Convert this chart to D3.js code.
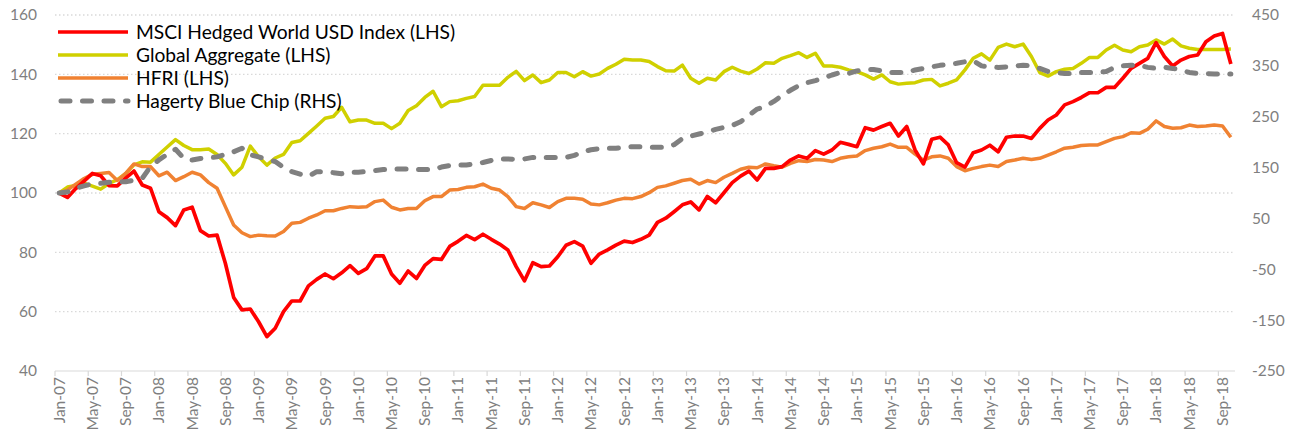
<!DOCTYPE html>
<html><head><meta charset="utf-8">
<script src="https://cdn.jsdelivr.net/npm/d3@7"></script>
<style>
html,body{margin:0;padding:0;background:#fff;}
svg{display:block;font-family:Lato, "Liberation Sans", sans-serif;}
</style></head>
<body><svg id="chart" width="1289" height="439"></svg>
<script>
// ---------- DATA ----------
const startMonth = "2007-01"; // first category Jan-07, monthly to Oct-18
const msci = [100,98.5,101.5,104,106.6,105.8,102.5,102.4,105,107.4,102.7,101.6,93.7,91.7,89.0,94.3,95.2,87.3,85.5,85.8,
76.3,64.8,60.6,60.9,56.6,51.6,54.4,60.0,63.6,63.6,68.7,70.9,72.7,71.1,73.1,75.5,72.9,74.5,78.8,78.8,
72.7,69.6,73.7,71.2,75.6,77.9,77.6,82.0,83.7,85.7,84.3,86.1,84.4,82.8,80.8,75.2,70.4,76.5,75.2,75.4,
78.5,82.4,83.6,82.1,76.3,79.4,80.8,82.4,83.8,83.3,84.4,85.8,90.1,91.5,93.7,96.0,97.0,94.3,98.8,96.7,
100.1,103.5,105.7,107.4,104.4,108.3,108.3,108.9,111.1,112.5,111.7,114.3,113.1,114.5,117.1,116.4,115.6,122.0,121.2,122.4,
123.5,119.2,122.4,114.5,109.8,118.1,118.8,116.2,110.2,108.7,113.6,114.5,116.1,113.9,118.8,119.2,119.2,118.4,121.8,124.6,
126.3,129.7,130.8,132.2,133.8,133.8,135.6,135.6,138.7,142.0,143.7,145.4,150.7,146.0,142.8,144.8,146.0,146.5,151.0,152.9,
153.8,143.5];
const globalAgg = [100,102,102.5,103.3,102.3,101.3,103.2,104.5,106.5,109.5,110.5,110.4,113,115.5,118,116,114.6,114.6,114.8,113,
110,106.1,108.7,115.8,112.2,109.4,111.8,113,117.0,117.6,120.1,122.6,125.2,125.8,128.9,124.0,124.6,124.6,123.5,123.5,
121.7,123.5,127.8,129.4,132.2,134.3,129.1,130.8,131.1,131.9,132.5,136.3,136.3,136.3,139.0,141.0,137.9,139.8,137.2,138.1,
140.6,140.6,139.2,140.9,139.4,140.1,142.0,143.4,145.1,144.8,144.8,144.3,142.6,141.2,141.1,143.1,138.7,137.0,138.7,138.1,
140.9,142.4,141.1,140.3,141.8,143.9,143.7,145.4,146.3,147.3,145.7,147.1,142.8,142.8,142.4,141.5,140.9,139.8,138.4,139.8,
137.5,136.7,137.0,137.2,138.1,138.3,136.1,137.0,138.1,141.5,145.4,146.9,144.8,149.1,150.2,149.3,150.2,146.0,140.6,139.4,
140.9,141.7,142.0,143.7,145.7,145.7,148.2,149.8,148.2,147.6,149.3,149.9,151.6,150.2,151.9,149.6,148.8,148.4,148.4,148.4,
148.4,148.5];
const hfri = [100,101,103,104.9,106.3,106.6,106.9,104.2,106.6,109.8,108.9,108.9,105.8,107.0,104.2,105.5,107.0,106.1,103.5,101.6,
95.4,89.2,86.6,85.3,85.8,85.6,85.5,87.0,89.8,90.1,91.5,92.6,94.0,94.0,94.8,95.4,95.2,95.4,97.1,97.6,
95.2,94.3,94.8,94.8,97.4,98.8,98.8,101.0,101.2,101.9,102.1,103.0,101.6,101.0,98.8,95.4,94.8,96.7,96.0,95.1,
97.1,98.2,98.2,97.9,96.3,96.0,96.7,97.6,98.2,98.1,98.8,100.1,101.9,102.4,103.3,104.2,104.6,103.0,104.2,103.5,
105.3,106.6,108.0,108.7,108.5,109.8,109.2,108.7,110.0,110.9,110.6,111.3,111.1,110.6,111.7,112.2,112.5,114.3,115.1,115.6,
116.5,115.4,115.4,113.1,111.1,112.2,112.5,111.7,108.9,107.5,108.3,108.9,109.4,108.9,110.6,111.1,111.7,111.3,111.7,112.8,
113.9,115.1,115.4,116.0,116.2,116.2,117.3,118.4,119.0,120.3,120.1,121.5,124.3,122.4,121.8,122.0,122.9,122.4,122.6,122.9,
122.6,118.8];
const hagerty = [100,102,109,114,118,119,121,122,122,125,129,152,165,176,186,168,165,168,169,171,
176,181,188,175,171,166,162,150,142,137,133,142,141,140,138,141,141,142,144,146,
147,147,147,146,146,146,151,154,155,155,157,160,164,167,167,166,167,170,170,170,
170,170,174,181,185,187,188,188,190,191,191,190,190,190,195,207,212,216,220,225,
229,233,240,253,265,270,280,292,302,311,317,321,326,332,337,335,340,342,343,340,
337,337,337,342,345,348,351,353,355,358,360,350,348,347,348,350,351,350,345,339,
337,335,335,337,337,337,339,347,350,351,351,347,345,347,345,342,337,335,335,334,
334,334];
const seriesNames = ["MSCI Hedged World USD Index (LHS)","Global Aggregate (LHS)","HFRI (LHS)","Hagerty Blue Chip (RHS)"];
const leftTicks = [40,60,80,100,120,140,160];
const rightTicks = [-250,-150,-50,50,150,250,350,450];
const xTickLabels = ["Jan-07","May-07","Sep-07","Jan-08","May-08","Sep-08","Jan-09","May-09","Sep-09","Jan-10","May-10","Sep-10",
"Jan-11","May-11","Sep-11","Jan-12","May-12","Sep-12","Jan-13","May-13","Sep-13","Jan-14","May-14","Sep-14",
"Jan-15","May-15","Sep-15","Jan-16","May-16","Sep-16","Jan-17","May-17","Sep-17","Jan-18","May-18","Sep-18"];

// ---------- LAYOUT ----------
const svg = d3.select("#chart");
const L = 55, R = 1235, T = 15, B = 371;
const fmt = d3.timeFormat("%b-%y");
const start = d3.timeParse("%Y-%m")(startMonth);
const categories = msci.map((_, i) => fmt(d3.timeMonth.offset(start, i)));

const x = d3.scaleBand().domain(categories).range([L, R]).paddingInner(0).paddingOuter(0);
const bw = x.bandwidth();
const cx = c => x(c) + bw / 2;
const yL = d3.scaleLinear().domain([40, 160]).range([B, T]);
const yR = d3.scaleLinear().domain([-250, 450]).range([B, T]);

const gridColor = "#d9d9d9", tickColor = "#7f7f7f";

// gridlines
svg.append("g").selectAll("line").data(leftTicks.filter(v => v > 40)).join("line")
  .attr("x1", L).attr("x2", R).attr("y1", d => yL(d)).attr("y2", d => yL(d))
  .attr("stroke", gridColor).attr("stroke-width", 1.3).attr("stroke-dasharray", "1.5,2.5");

// left axis labels
svg.append("g").selectAll("text").data(leftTicks).join("text")
  .attr("x", 37).attr("y", d => yL(d)).attr("dy", "0.35em").attr("text-anchor", "end")
  .attr("fill", tickColor).attr("font-size", 15.5).text(d => d);
// right axis labels
svg.append("g").selectAll("text").data(rightTicks).join("text")
  .attr("x", 1252).attr("y", d => yR(d)).attr("dy", "0.35em").attr("text-anchor", "start")
  .attr("fill", tickColor).attr("font-size", 15.5).text(d => d);

// x axis
svg.append("line").attr("x1", L).attr("x2", R).attr("y1", B).attr("y2", B)
  .attr("stroke", gridColor).attr("stroke-width", 1.2);
svg.append("g").selectAll("line").data(xTickLabels).join("line")
  .attr("x1", d => x(d)).attr("x2", d => x(d)).attr("y1", B).attr("y2", B + 5)
  .attr("stroke", gridColor).attr("stroke-width", 1.2);
svg.append("g").selectAll("text").data(xTickLabels).join("text")
  .attr("transform", d => `translate(${cx(d)},${B + 6}) rotate(-90)`)
  .attr("dy", "0.35em").attr("text-anchor", "end")
  .attr("fill", tickColor).attr("font-size", 15.5).text(d => d);

// lines
const lineL = d3.line().x((d, i) => cx(categories[i])).y(d => yL(d));
const lineR = d3.line().x((d, i) => cx(categories[i])).y(d => yR(d));
const styles = [
  {data: globalAgg, gen: lineL, color: "#d0d000", w: 3.5},
  {data: hfri, gen: lineL, color: "#f08232", w: 3.5},
  {data: msci, gen: lineL, color: "#ff0000", w: 3.7},
  {data: hagerty, gen: lineR, color: "#808080", w: 5, dash: "9,12.5", cap: "round"}
];
styles.forEach(s => {
  svg.append("path").attr("d", s.gen(s.data)).attr("fill", "none")
    .attr("stroke", s.color).attr("stroke-width", s.w)
    .attr("stroke-linejoin", "round")
    .attr("stroke-linecap", s.cap || "butt")
    .attr("stroke-dasharray", s.dash || null);
});

// legend
const legendStyles = [
  {color: "#ff0000", w: 3.7},
  {color: "#d0d000", w: 3.5},
  {color: "#f08232", w: 3.5},
  {color: "#808080", w: 5, dash: "9,12.5", cap: "round"}
];
const lg = svg.append("g");
seriesNames.forEach((name, i) => {
  const yy = 32 + i * 23;
  const s = legendStyles[i];
  lg.append("line").attr("x1", s.cap ? 61 : 58).attr("x2", 128).attr("y1", yy).attr("y2", yy)
    .attr("stroke", s.color).attr("stroke-width", s.w)
    .attr("stroke-linecap", s.cap || "butt").attr("stroke-dasharray", s.dash || null);
  lg.append("text").attr("x", 136).attr("y", yy).attr("dy", "0.35em")
    .attr("fill", "#000").attr("font-size", 19.2).text(name);
});
</script></body></html>
